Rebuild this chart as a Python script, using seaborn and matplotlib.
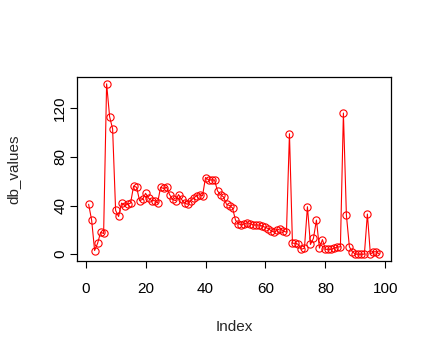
import seaborn as sns
import matplotlib.pyplot as plt
import pandas as pd

# valores
db_values = [41, 28, 3, 9, 18, 17, 140, 113, 103, 36,
             31, 42, 40, 41, 42, 56, 55, 44, 45, 50,
             46, 44, 44, 42, 55, 54, 55, 49, 45, 44,
             49, 45, 42, 41, 44, 46, 48, 49, 48, 63,
             61, 61, 61, 52, 49, 47, 41, 40, 38, 28,
             25, 24, 25, 26, 25, 24, 24, 24, 23, 22,
             21, 19, 18, 20, 21, 19, 18, 99, 9, 9,
             8, 4, 5, 39, 8, 13, 28, 5, 12, 4,
             4, 4, 5, 6, 6, 116, 32, 6, 2, 0,
             0, 0, 0, 33, 0, 2, 2, 0]
index = list(range(1, len(db_values) + 1))
x_ticks = [0, 20, 40, 60, 80, 100]
y_ticks = [0, 40, 80, 120]

df = pd.DataFrame({"Index": index, "db_values": db_values})

sns.set_style("white")
plt.rcParams['font.family'] = ['Liberation Sans', 'DejaVu Sans']

fig = plt.figure(figsize=(4.31, 3.57), dpi=100)
ax = fig.add_axes([77 / 431, 1 - 261 / 357, 314 / 431, 184 / 357])

sns.lineplot(data=df, x="Index", y="db_values", ax=ax, color="red",
             linewidth=0.8, marker="o", markersize=5.2,
             markerfacecolor="none", markeredgecolor="red",
             markeredgewidth=0.8)

ax.set_xlim(-2.88, 101.88)
ax.set_ylim(-5.6, 145.6)
ax.set_xticks(x_ticks)
ax.set_yticks(y_ticks)
ax.set_yticklabels([str(v) for v in y_ticks], rotation=90, va="center")

for s in ax.spines.values():
    s.set_visible(True)
    s.set_color("black")
    s.set_linewidth(0.9)

ax.tick_params(axis="x", direction="out", length=5, width=0.8, pad=10,
               labelsize=11, colors="black", bottom=True)
ax.tick_params(axis="y", direction="out", length=5, width=0.8, pad=2,
               labelsize=11, colors="black", left=True)

ax.set_xlabel("Index", fontsize=11)
ax.set_ylabel("db_values", fontsize=11)
ax.xaxis.set_label_coords(0.5, -0.32)
ax.yaxis.set_label_coords(-0.18, 0.5)

plt.savefig("out.png", dpi=100)
